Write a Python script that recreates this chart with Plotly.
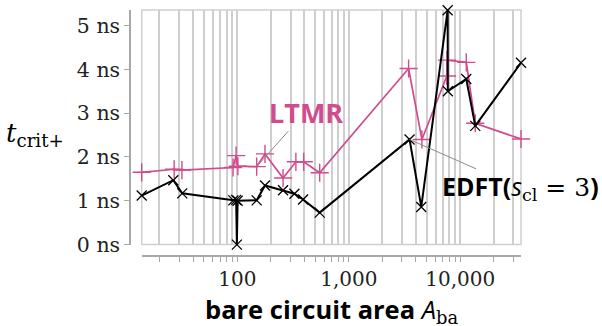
import math
import plotly.graph_objects as go

# Critical time t_crit+ (ns) versus bare circuit area A_ba
edft_area = [13.85, 26.6, 32.0, 92.0, 97.5, 99.0, 100.5, 149, 177, 257, 325, 389, 548,
             3510, 4470, 7710, 7740, 11330, 13640, 35100]
edft_tcrit = [1.12, 1.47, 1.17, 1.01, 1.02, 0.0, 1.00, 1.01, 1.35, 1.24, 1.16, 1.03, 0.73,
              2.40, 0.86, 5.35, 3.50, 3.78, 2.71, 4.15]

ltmr_area = [13.85, 27.1, 31.8, 91.5, 97.4, 101, 149, 177, 257, 335, 394, 548,
             3440, 4530, 7590, 7600, 11330, 13640, 35100]
ltmr_tcrit = [1.65, 1.72, 1.70, 1.76, 2.03, 1.79, 1.78, 2.07, 1.52, 1.89, 1.89, 1.64,
              4.02, 2.40, 3.85, 4.21, 4.16, 2.77, 2.41]

y_ticks = [0, 1, 2, 3, 4, 5]
y_labels = [f"{v} ns" for v in y_ticks]
x_labelled = {100: "100", 1000: "1,000", 10000: "10,000"}

PINK = "#d24b8c"
GRID = "#cfcfcf"
AXIS = "#a8a8a8"
LEADER = "#8c8c8c"
SERIF = "DejaVu Serif"
SANS = "Open Sans"

x_ticks = [m * 10 ** e for e in range(1, 5) for m in range(1, 10)
           if 20 <= m * 10 ** e <= 30000]
x_text = [x_labelled.get(v, "") for v in x_ticks]

# paper coordinates from pixel positions on the 602x326 canvas
L, T, W, H = 130, 10, 391, 246


def px(xp):
    return (xp - L) / W


def py(yp):
    return (T + H - yp) / H


fig = go.Figure()
fig.add_trace(go.Scatter(
    x=ltmr_area, y=ltmr_tcrit, mode="lines+markers", name="LTMR",
    line=dict(color=PINK, width=1.7),
    marker=dict(symbol="cross-thin-open", size=13, line=dict(color=PINK, width=1.4)),
    cliponaxis=False))
fig.add_trace(go.Scatter(
    x=edft_area, y=edft_tcrit, mode="lines+markers", name="EDFT",
    line=dict(color="black", width=2),
    marker=dict(symbol="x-thin-open", size=10, line=dict(color="black", width=1.3)),
    cliponaxis=False))

# light frame around the plotting region
fig.add_shape(type="rect", xref="x domain", yref="y domain", x0=0, x1=1, y0=0, y1=1,
              line=dict(color=GRID, width=1.5), layer="below")

# leader lines from a data point towards each series label
fig.add_annotation(x=math.log10(ltmr_area[6]), y=ltmr_tcrit[6], ax=33, ay=-37,
                   text="", showarrow=True, arrowhead=0, arrowwidth=1,
                   arrowcolor=LEADER, standoff=0, startstandoff=0)
fig.add_annotation(x=math.log10(edft_area[13]), y=edft_tcrit[13], ax=68, ay=30,
                   text="", showarrow=True, arrowhead=0, arrowwidth=1,
                   arrowcolor=LEADER, standoff=0, startstandoff=0)

fig.add_annotation(xref="paper", yref="paper", x=px(306), y=py(112),
                   xanchor="center", yanchor="middle",
                   text="<b>LTMR</b>", showarrow=False,
                   font=dict(family=SANS, size=27, color=PINK))
fig.add_annotation(xref="paper", yref="paper", x=px(601), y=py(187),
                   xanchor="right", yanchor="middle",
                   text=('<b>EDFT(</b><i>s</i><sub><span style="font-family:DejaVu Serif">cl</span></sub>'
                         '<span style="font-family:DejaVu Serif"> = 3</span><b>)</b>'),
                   showarrow=False, font=dict(family=SANS, size=25, color="black"))

# axis titles
fig.add_annotation(xref="paper", yref="paper", x=px(35), y=py(134),
                   xanchor="center", yanchor="middle",
                   text="<i>t</i><sub>crit+</sub>", showarrow=False,
                   font=dict(family=SERIF, size=26, color="black"))
fig.add_annotation(xref="paper", yref="paper", x=px(331), y=py(310),
                   xanchor="center", yanchor="middle",
                   text=('<b>bare circuit area</b> <i>A</i><sub>'
                         '<span style="font-family:DejaVu Serif">ba</span></sub>'),
                   showarrow=False, font=dict(family=SANS, size=25.5, color="black"))

fig.update_layout(
    width=602, height=326,
    margin=dict(l=L, r=602 - L - W, t=T, b=326 - T - H),
    paper_bgcolor="white", plot_bgcolor="white",
    showlegend=False,
    xaxis=dict(
        type="log", domain=[px(141.7), 1],
        range=[math.log10(edft_area[0]), math.log10(edft_area[-1])],
        anchor="free", position=0,
        tickvals=x_ticks, ticktext=x_text,
        showgrid=True, gridcolor=GRID, gridwidth=1.5,
        showline=True, linecolor=AXIS, linewidth=1.5,
        ticks="outside", ticklen=5, tickcolor=AXIS, tickwidth=1.2,
        tickfont=dict(family=SERIF, size=20, color="#222"),
        zeroline=False),
    yaxis=dict(
        domain=[py(244.6), 1],
        range=[0, 5.355],
        anchor="free", position=0,
        tickvals=y_ticks, ticktext=y_labels,
        showgrid=False, zeroline=False,
        showline=True, linecolor=AXIS, linewidth=1.5,
        ticks="outside", ticklen=5, tickcolor=AXIS, tickwidth=1.2,
        tickfont=dict(family=SERIF, size=20.5, color="#222")),
)

fig.write_html("out.html")
